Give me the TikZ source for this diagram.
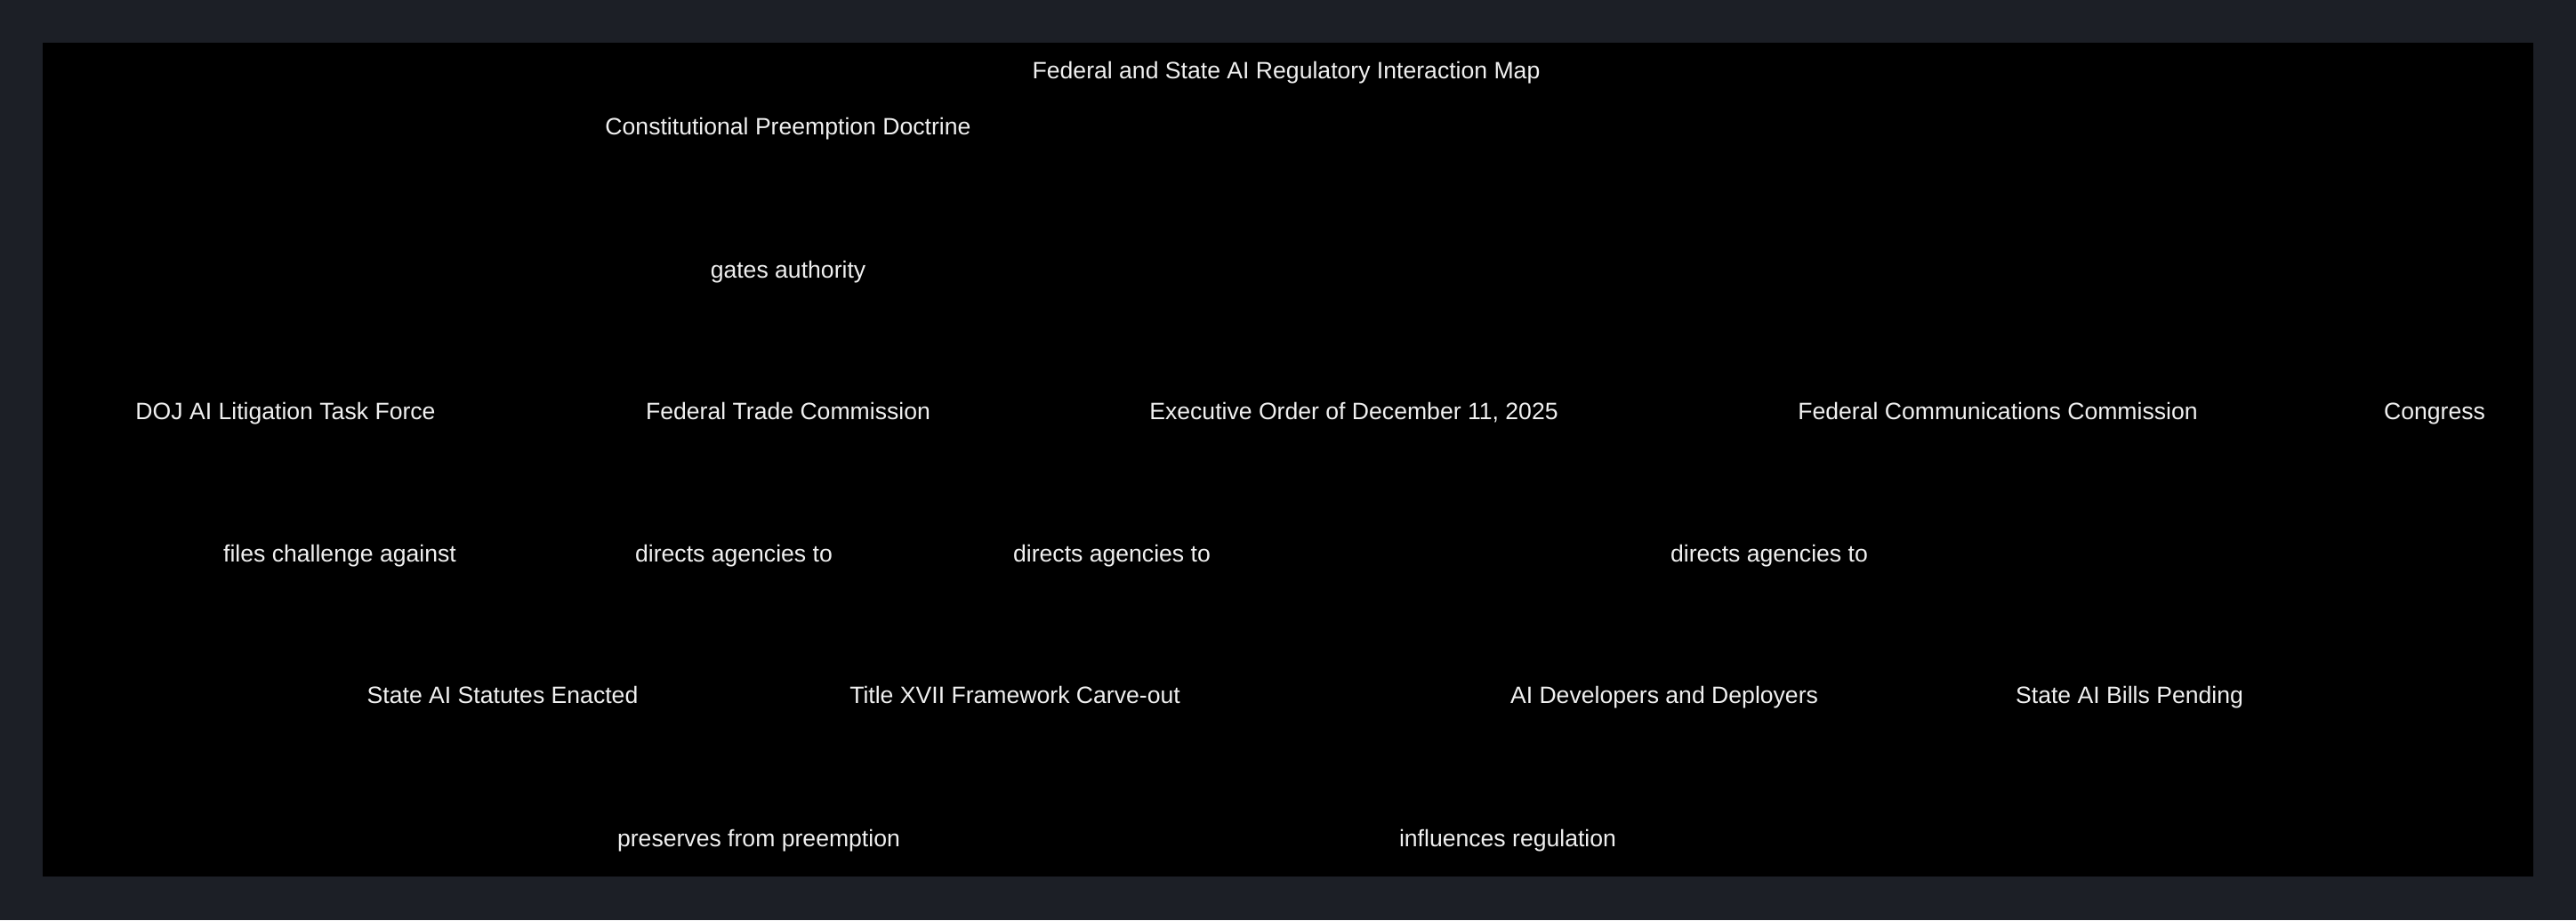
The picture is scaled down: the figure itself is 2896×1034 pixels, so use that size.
\documentclass[tikz,border=0pt]{standalone}
\usepackage{fontspec}
\setmainfont{Liberation Sans}
\definecolor{outerbg}{HTML}{1C1F26}
\definecolor{txt}{HTML}{F0F0F0}
\tikzset{
  lbl/.style={text=txt, inner sep=0pt, anchor=center, text height=0.716em, text depth=0pt,
    font=\fontsize{13.3bp}{15bp}\selectfont},
}
\begin{document}
\begin{tikzpicture}[x=0.5bp,y=-0.5bp]
\fill[outerbg] (0,0) rectangle (2896,1034);
\useasboundingbox (0,0) rectangle (2896,1034);
\fill[black] (48,48) rectangle (2848,985);
\node[lbl] (title) at (1446,81) {Federal and State AI Regulatory Interaction Map};
\node[lbl] (cpd) at (886,144) {Constitutional Preemption Doctrine};
\node[lbl] (gates) at (886,305) {gates authority};
\node[lbl] (doj) at (321,464) {DOJ AI Litigation Task Force};
\node[lbl] (ftc) at (886,464) {Federal Trade Commission};
\node[lbl] (eo) at (1522,464) {Executive Order of December 11, 2025};
\node[lbl] (fcc) at (2246,464) {Federal Communications Commission};
\node[lbl] (cong) at (2737,464) {Congress};
\node[lbl] (files) at (382,624) {files challenge against};
\node[lbl] (dir1) at (825,624) {directs agencies to};
\node[lbl] (dir2) at (1250,624) {directs agencies to};
\node[lbl] (dir3) at (1989,624) {directs agencies to};
\node[lbl] (sase) at (565,783) {State AI Statutes Enacted};
\node[lbl] (title17) at (1141,783) {Title XVII Framework Carve-out};
\node[lbl] (devs) at (1871,783) {AI Developers and Deployers};
\node[lbl] (sabp) at (2394,783) {State AI Bills Pending};
\node[lbl] (pres) at (853,944) {preserves from preemption};
\node[lbl] (infl) at (1695,944) {influences regulation};
\end{tikzpicture}
\end{document}
